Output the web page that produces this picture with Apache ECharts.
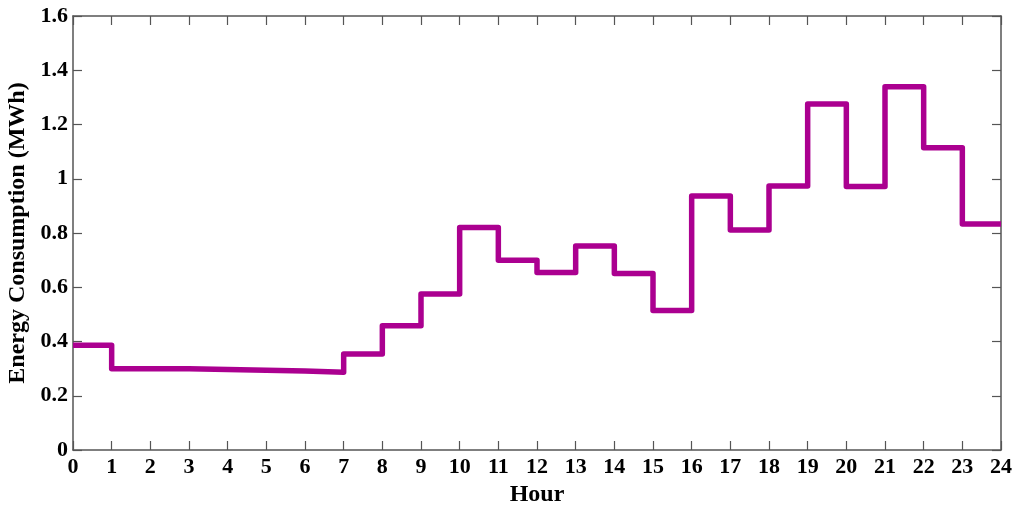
<!DOCTYPE html>
<html>
<head>
<meta charset="utf-8">
<script src="https://cdn.jsdelivr.net/npm/echarts@6/dist/echarts.min.js"></script>
<style>
  html, body { margin: 0; padding: 0; background: #fff; }
  #chart { width: 1015px; height: 505px; }
</style>
</head>
<body>
<div id="chart"></div>
<script>
// Hourly energy consumption (MWh), one value per hour 0..23
const hours = [0, 1, 2, 3, 4, 5, 6, 7, 8, 9, 10, 11, 12, 13, 14, 15, 16, 17, 18, 19, 20, 21, 22, 23];
const consumption = [0.386, 0.300, 0.300, 0.297, 0.294, 0.291, 0.287, 0.354, 0.458, 0.575,
                     0.820, 0.700, 0.654, 0.752, 0.651, 0.514, 0.936, 0.811, 0.973, 1.276,
                     0.971, 1.339, 1.114, 0.833];
const xTicks = { min: 0, max: 24, step: 1 };
const yTicks = { min: 0, max: 1.6, step: 0.2 };

// Each hour's value holds until the next hour; close the last step at hour 24
const stepData = hours.map((h, i) => [h, consumption[i]]);
stepData.push([xTicks.max, consumption[consumption.length - 1]]);

const font = 'Liberation Serif, Times New Roman, serif';
const frameColor = '#555';

const baseX = {
  type: 'value', min: xTicks.min, max: xTicks.max, interval: xTicks.step,
  axisLine: { show: true, onZero: false, lineStyle: { color: frameColor, width: 1.5 } },
  axisTick: { show: true, inside: true, length: 9, lineStyle: { color: frameColor, width: 1.2 } },
  splitLine: { show: false }
};
const baseY = {
  type: 'value', min: yTicks.min, max: yTicks.max, interval: yTicks.step,
  axisLine: { show: true, onZero: false, lineStyle: { color: frameColor, width: 1.5 } },
  axisTick: { show: true, inside: true, length: 9, lineStyle: { color: frameColor, width: 1.2 } },
  splitLine: { show: false }
};

const chart = echarts.init(document.getElementById('chart'), null, { renderer: 'canvas' });
chart.setOption({
  animation: false,
  backgroundColor: '#fff',
  grid: { left: 73, right: 14, top: 16, bottom: 55, containLabel: false, outerBoundsMode: 'none' },
  xAxis: [
    Object.assign({}, baseX, {
      position: 'bottom',
      name: 'Hour', nameLocation: 'middle', nameGap: 29,
      nameTextStyle: { fontFamily: font, fontWeight: 'bold', fontSize: 24, color: '#000' },
      axisLabel: { show: true, margin: 6, fontFamily: font, fontWeight: 'bold', fontSize: 22, color: '#000' }
    }),
    Object.assign({}, baseX, { position: 'top', axisLabel: { show: false } })
  ],
  yAxis: [
    Object.assign({}, baseY, {
      position: 'left',
      name: 'Energy Consumption (MWh)', nameLocation: 'middle', nameGap: 41,
      nameTextStyle: { fontFamily: font, fontWeight: 'bold', fontSize: 24, color: '#000' },
      axisLabel: { show: true, margin: 5, fontFamily: font, fontWeight: 'bold', fontSize: 22, color: '#000' }
    }),
    Object.assign({}, baseY, { position: 'right', axisLabel: { show: false } })
  ],
  series: [{
    type: 'line',
    step: 'end',
    data: stepData,
    xAxisIndex: 0, yAxisIndex: 0,
    showSymbol: false,
    lineStyle: { color: '#ab0090', width: 5.5, join: 'round', cap: 'butt' },
    clip: true
  }]
});
</script>
</body>
</html>
